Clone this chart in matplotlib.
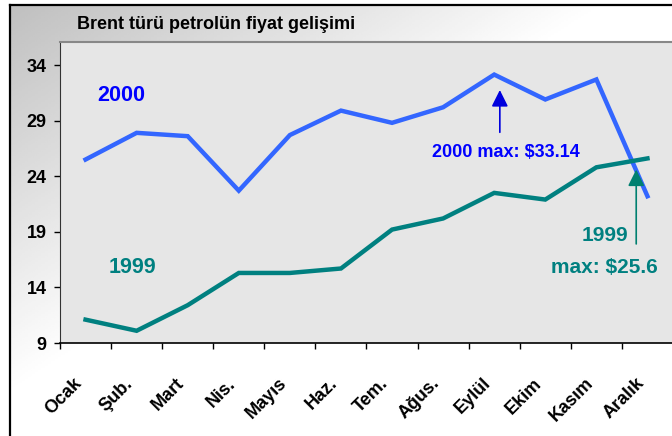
import matplotlib
matplotlib.use('Agg')
import matplotlib.pyplot as plt
import numpy as np

plt.rcParams['font.family'] = ['Liberation Sans', 'DejaVu Sans']
plt.rcParams['font.weight'] = 'bold'

# data
months = ['Ocak', 'Şub.', 'Mart', 'Nis.', 'Mayıs', 'Haz.', 'Tem.',
          'Ağus.', 'Eylül', 'Ekim', 'Kasım', 'Aralık']
brent_2000 = [25.5, 27.9, 27.6, 22.7, 27.7, 29.9, 28.8, 30.2, 33.14, 30.9, 32.7, 22.2]
brent_1999 = [11.1, 10.1, 12.4, 15.3, 15.3, 15.7, 19.2, 20.2, 22.5, 21.9, 24.8, 25.6]
yticks = [9, 14, 19, 24, 29, 34]

W, H = 672, 436
fig = plt.figure(figsize=(W / 100, H / 100), dpi=100)
fig.patch.set_facecolor('white')

# outer frame with grey gradient
bg = fig.add_axes([10 / W, 0, 1 - 10 / W, 1 - 5 / H])
gx, gy = np.meshgrid(np.linspace(0, 1, 200), np.linspace(0, 1, 200))
grad = 0.75 + 0.25 * np.clip((gx + gy) / 0.9, 0, 1)
bg.imshow(grad, cmap='gray', vmin=0, vmax=1, aspect='auto', extent=[0, 1, 0, 1], origin='upper')
bg.set_xticks([])
bg.set_yticks([])
for side in ['right', 'bottom']:
    bg.spines[side].set_visible(False)
for side in ['left', 'top']:
    bg.spines[side].set_linewidth(1.6)
    bg.spines[side].set_color('black')

fig.text(77 / W, 1 - 29 / H, 'Brent türü petrolün fiyat gelişimi', fontsize=13,
         fontweight='bold', ha='left', va='baseline', color='black')

ax = fig.add_axes([60 / W, (H - 343) / H, 613 / W, 301 / H])
ax.set_facecolor('#e6e6e6')
x = np.arange(len(months))
ax.plot(x, brent_2000, color='#3366ff', lw=3.2, solid_joinstyle='miter')
ax.plot(x, brent_1999, color='#008080', lw=3.2, solid_joinstyle='miter')

ax.set_xlim(-0.5, 11.5)
ax.set_ylim(9, 36.07)
ax.set_yticks(yticks)
ax.set_yticklabels([str(v) for v in yticks], fontsize=13, fontweight='bold')
ax.tick_params(axis='y', direction='out', length=4, width=1, pad=5.5)

ax.set_xticks(x)
ax.set_xticklabels(months, rotation=45, ha='right', va='top', fontsize=13, fontweight='bold')
ax.tick_params(axis='x', which='major', length=0, pad=23)
ax.set_xticks(np.arange(-0.5, 12, 1), minor=True)
ax.tick_params(axis='x', which='minor', direction='out', length=4, width=1)

ax.spines['top'].set_color('#888888')
ax.spines['top'].set_linewidth(1.5)
ax.spines['left'].set_color('#333333')
ax.spines['bottom'].set_color('black')
ax.spines['bottom'].set_linewidth(1.2)
ax.spines['right'].set_visible(False)

ax.text(0.69, 31.27, '2000', color='#0000ff', fontsize=15.5, fontweight='bold',
        ha='center', va='center')
ax.text(0.92, 15.79, '1999', color='#008080', fontsize=15.5, fontweight='bold',
        ha='center', va='center')

ax.annotate('', xy=(8.11, 32.0), xytext=(8.11, 27.7),
            arrowprops=dict(arrowstyle='-|>,head_length=1.0,head_width=0.5',
                            mutation_scale=10, color='#0000dd', lw=1.2))
ax.text(8.22, 26.11, '2000 max: $33.14', color='#0000ff', fontsize=13,
        fontweight='bold', ha='center', va='center')

ax.annotate('', xy=(10.78, 24.85), xytext=(10.78, 17.66),
            arrowprops=dict(arrowstyle='-|>,head_length=1.0,head_width=0.5',
                            mutation_scale=10, color='#008070', lw=1.2))
ax.text(10.16, 18.71, '1999', color='#008080', fontsize=15, fontweight='bold',
        ha='center', va='center')
ax.text(10.16, 15.83, 'max: $25.6', color='#008080', fontsize=15, fontweight='bold',
        ha='center', va='center')

fig.savefig('out.png', dpi=100)
